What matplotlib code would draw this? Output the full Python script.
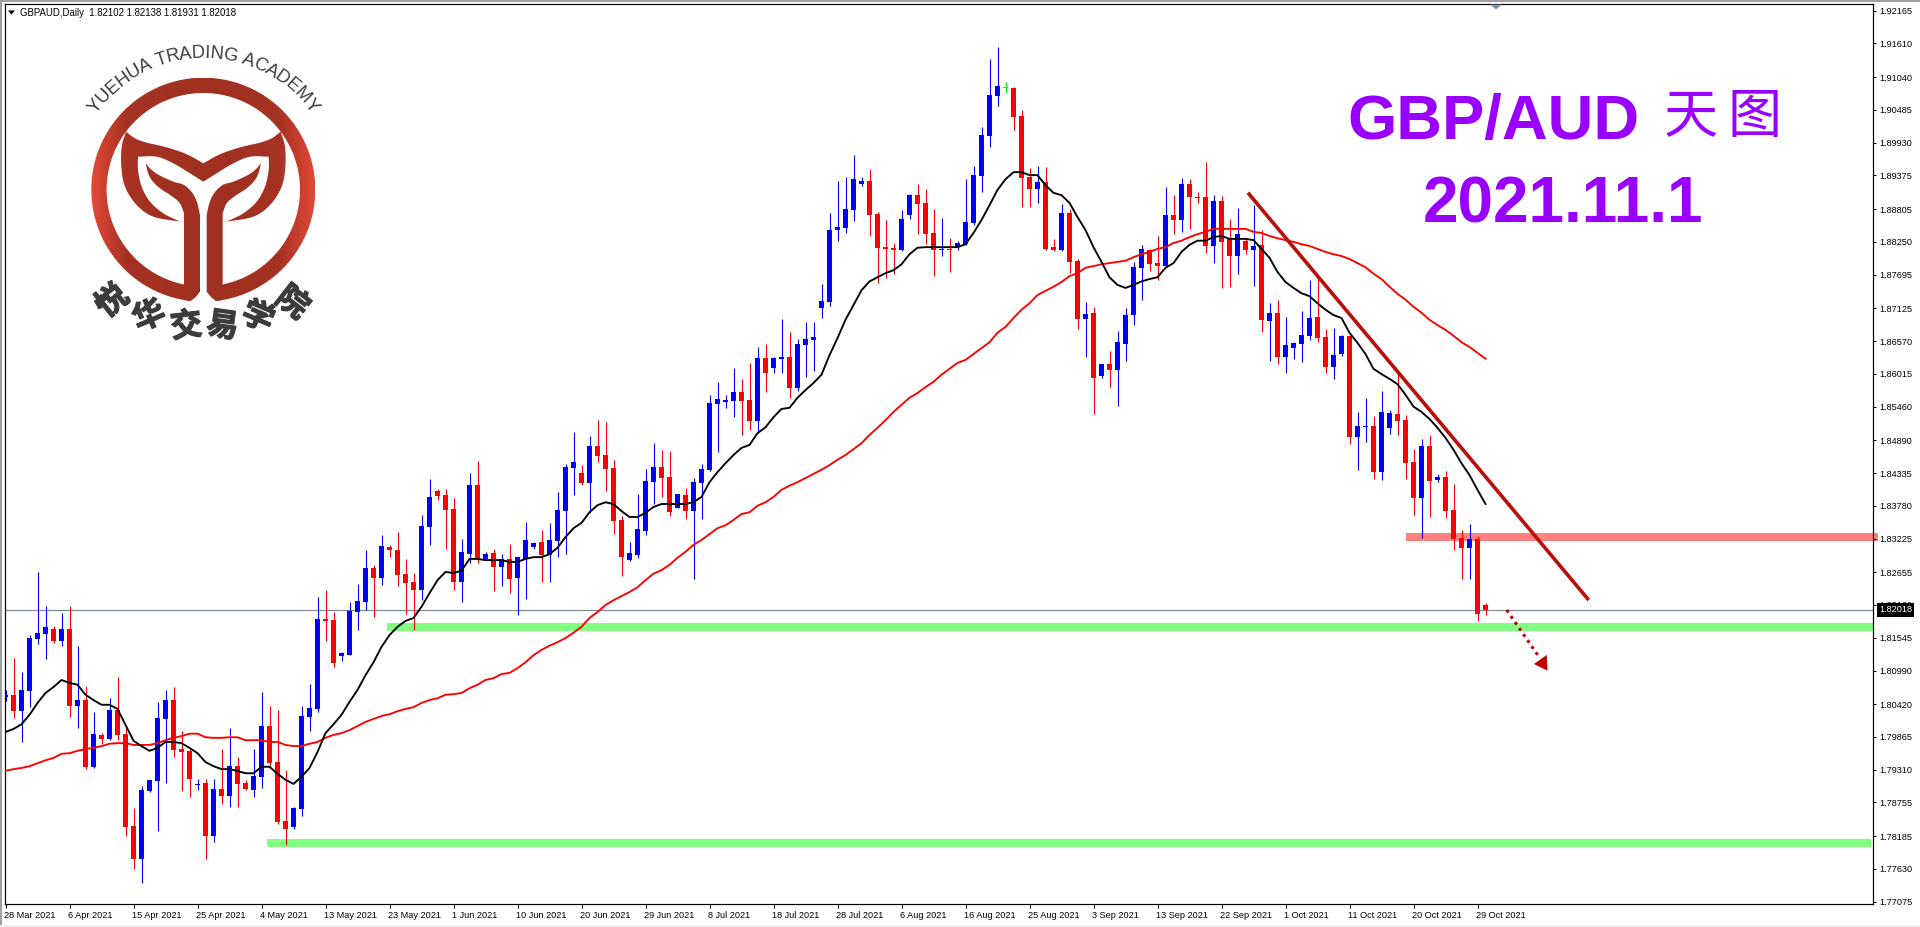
import numpy as np
import matplotlib
matplotlib.use("Agg")
import matplotlib.pyplot as plt
import matplotlib.patheffects as pe
from matplotlib.patches import Rectangle, Polygon
from matplotlib.path import Path
from matplotlib.patches import PathPatch
from matplotlib.transforms import ScaledTranslation

# ---------- data ----------
directions = ("UDUUUUDUDU" "DUDUDDDUUU" "UDDDUDUDUD" "DUUDDDUUUU" "DDUUUUDUDD" "DDUUDDDUUD"
              "UDUDUUUDUU" "UUDUDDDDUU" "UUDDUDUUUU" "UUDDUDUUDU" "UUUUUUUUDD" "DDUUDDDUDU"
              "UUUUUFDDDU" "DDUDDUDUDU" "UUUDDUDUDD" "DUDDUDUDUD" "UUUUDDUUDU" "UDUUDDDUDU" "DDDUDD")
highs = [
    1.8066,1.8120,1.8097,1.8159,1.8266,1.8208,1.8174,1.8196,1.8208,1.8141,
    1.8073,1.8029,1.7993,1.8052,1.8088,1.8003,1.7866,1.7903,1.7914,1.8046,
    1.8066,1.8071,1.7997,1.7966,1.7915,1.7915,1.7915,1.7966,1.8002,1.7953,
    1.7914,1.7966,1.8063,1.8039,1.8032,1.7931,1.7868,1.8039,1.8076,1.8224,
    1.8235,1.8198,1.8130,1.8215,1.8245,1.8303,1.8278,1.8328,1.8312,1.8334,
    1.8288,1.8264,1.8362,1.8423,1.8406,1.8406,1.8391,1.8322,1.8434,1.8454,
    1.8300,1.8305,1.8296,1.8313,1.8291,1.8350,1.8317,1.8337,1.8349,1.8401,
    1.8449,1.8503,1.8447,1.8496,1.8523,1.8520,1.8456,1.8361,1.8317,1.8398,
    1.8440,1.8484,1.8472,1.8471,1.8398,1.8408,1.8425,1.8449,1.8566,1.8588,
    1.8566,1.8611,1.8593,1.8620,1.8647,1.8652,1.8630,1.8694,1.8672,1.8660,
    1.8689,1.8689,1.8754,1.8874,1.8928,1.8935,1.8972,1.8935,1.8948,1.8876,
    1.8862,1.8823,1.8879,1.8906,1.8923,1.8915,1.8881,1.8865,1.8831,1.8827,
    1.8931,1.8954,1.9020,1.9135,1.9155,1.9096,1.9087,1.9048,1.8950,1.8954,
    1.8952,1.8830,1.8889,1.8881,1.8796,1.8723,1.8715,1.8618,1.8640,1.8674,
    1.8713,1.8791,1.8820,1.8811,1.8835,1.8918,1.8904,1.8933,1.8931,1.8909,
    1.8960,1.8904,1.8903,1.8864,1.8882,1.8831,1.8887,1.8845,1.8721,1.8727,
    1.8698,1.8655,1.8708,1.8760,1.8765,1.8677,1.8679,1.8667,1.8666,1.8537,
    1.8561,1.8530,1.8572,1.8540,1.8605,1.8532,1.8474,1.8491,1.8498,1.8432,
    1.8437,1.8415,1.8337,1.8347,1.8327,1.82138]
body_tops = [
    1.8058,1.8058,1.8066,1.8154,1.8163,1.8173,1.8169,1.8169,1.8169,1.8049,
    1.8049,1.7992,1.7990,1.8032,1.8032,1.7992,1.7836,1.7897,1.7914,1.8019,
    1.8049,1.8049,1.7966,1.7963,1.7907,1.7909,1.7898,1.7898,1.7937,1.7937,
    1.7909,1.7920,1.8005,1.8005,1.7944,1.7844,1.7866,1.8022,1.8036,1.8186,
    1.8186,1.8185,1.8129,1.8200,1.8217,1.8273,1.8273,1.8310,1.8308,1.8303,
    1.8263,1.8249,1.8344,1.8393,1.8403,1.8396,1.8373,1.8300,1.8413,1.8413,
    1.8296,1.8298,1.8288,1.8288,1.8291,1.8320,1.8315,1.8317,1.8320,1.8371,
    1.8444,1.8452,1.8434,1.8479,1.8479,1.8464,1.8442,1.8354,1.8298,1.8339,
    1.8420,1.8444,1.8444,1.8427,1.8398,1.8396,1.8418,1.8440,1.8552,1.8559,
    1.8557,1.8571,1.8571,1.8557,1.8628,1.8628,1.8628,1.8630,1.8630,1.8652,
    1.8660,1.8664,1.8725,1.8845,1.8850,1.8881,1.8931,1.8928,1.8928,1.8872,
    1.8816,1.8815,1.8864,1.8904,1.8904,1.8891,1.8840,1.8813,1.8813,1.8823,
    1.8859,1.8938,1.9006,1.9074,1.9089,1.9086,1.9086,1.9038,1.8935,1.8926,
    1.8926,1.8816,1.8874,1.8874,1.8793,1.8703,1.8705,1.8618,1.8618,1.8655,
    1.8701,1.8782,1.8813,1.8811,1.8789,1.8870,1.8870,1.8923,1.8923,1.8901,
    1.8901,1.8894,1.8894,1.8830,1.8838,1.8827,1.8818,1.8820,1.8705,1.8705,
    1.8650,1.8654,1.8667,1.8696,1.8698,1.8664,1.8633,1.8666,1.8666,1.8513,
    1.8513,1.8513,1.8537,1.8535,1.8533,1.8523,1.8452,1.8479,1.8479,1.8427,
    1.8427,1.8371,1.8323,1.8322,1.8322,1.82102]
body_bottoms = [
    1.8054,1.8030,1.8030,1.8064,1.8152,1.8161,1.8149,1.8149,1.8039,1.8039,
    1.7936,1.7936,1.7983,1.7983,1.7990,1.7834,1.7780,1.7780,1.7895,1.7912,
    1.8017,1.7964,1.7961,1.7915,1.7905,1.7819,1.7819,1.7886,1.7886,1.7907,
    1.7898,1.7897,1.7919,1.7942,1.7842,1.7830,1.7834,1.7864,1.8020,1.8034,
    1.8183,1.8112,1.8124,1.8125,1.8198,1.8215,1.8256,1.8256,1.8303,1.8261,
    1.8247,1.8235,1.8235,1.8342,1.8395,1.8371,1.8249,1.8249,1.8296,1.8288,
    1.8288,1.8274,1.8274,1.8254,1.8256,1.8288,1.8308,1.8295,1.8295,1.8318,
    1.8369,1.8442,1.8417,1.8417,1.8462,1.8440,1.8352,1.8291,1.8286,1.8295,
    1.8335,1.8418,1.8425,1.8367,1.8374,1.8369,1.8369,1.8417,1.8439,1.8550,
    1.8553,1.8555,1.8555,1.8522,1.8522,1.8603,1.8611,1.8627,1.8577,1.8577,
    1.8650,1.8659,1.8713,1.8723,1.8845,1.8848,1.8879,1.8923,1.8870,1.8815,
    1.8813,1.8811,1.8811,1.8870,1.8889,1.8838,1.8811,1.8811,1.8811,1.8816,
    1.8821,1.8857,1.8936,1.9004,1.9072,1.9086,1.9036,1.8933,1.8915,1.8915,
    1.8813,1.8811,1.8811,1.8791,1.8694,1.8694,1.8594,1.8598,1.8608,1.8608,
    1.8652,1.8701,1.8781,1.8787,1.8784,1.8784,1.8862,1.8862,1.8901,1.8899,
    1.8818,1.8818,1.8825,1.8801,1.8801,1.8811,1.8811,1.8693,1.8691,1.8630,
    1.8630,1.8645,1.8652,1.8666,1.8662,1.8613,1.8613,1.8635,1.8495,1.8495,
    1.8511,1.8435,1.8435,1.8510,1.8522,1.8450,1.8391,1.8391,1.8420,1.8422,
    1.8369,1.8322,1.8307,1.8307,1.8195,1.82018]
lows = [
    1.8047,1.8019,1.7978,1.8037,1.8144,1.8119,1.8146,1.8141,1.8020,1.8002,
    1.7932,1.7934,1.7975,1.7981,1.7981,1.7819,1.7763,1.7739,1.7893,1.7827,
    1.7909,1.7953,1.7895,1.7885,1.7897,1.7780,1.7809,1.7873,1.7868,1.7868,
    1.7897,1.7885,1.7900,1.7937,1.7839,1.7804,1.7830,1.7853,1.7997,1.8029,
    1.8149,1.8105,1.8115,1.8125,1.8167,1.8201,1.8190,1.8244,1.8291,1.8242,
    1.8195,1.8167,1.8218,1.8312,1.8388,1.8305,1.8235,1.8215,1.8281,1.8281,
    1.8286,1.8234,1.8242,1.8230,1.8193,1.8220,1.8305,1.8249,1.8249,1.8291,
    1.8296,1.8396,1.8413,1.8366,1.8452,1.8403,1.8330,1.8259,1.8284,1.8290,
    1.8328,1.8381,1.8393,1.8361,1.8374,1.8356,1.8254,1.8356,1.8437,1.8469,
    1.8544,1.8528,1.8498,1.8506,1.8501,1.8571,1.8603,1.8603,1.8561,1.8572,
    1.8596,1.8606,1.8696,1.8716,1.8827,1.8840,1.8860,1.8920,1.8835,1.8755,
    1.8764,1.8771,1.8810,1.8864,1.8838,1.8821,1.8767,1.8801,1.8774,1.8811,
    1.8820,1.8854,1.8909,1.8986,1.9055,1.9077,1.9014,1.8884,1.8884,1.8891,
    1.8811,1.8810,1.8810,1.8772,1.8677,1.8630,1.8533,1.8594,1.8579,1.8547,
    1.8623,1.8684,1.8727,1.8776,1.8760,1.8784,1.8838,1.8842,1.8847,1.8891,
    1.8806,1.8789,1.8747,1.8749,1.8771,1.8804,1.8750,1.8672,1.8623,1.8618,
    1.8603,1.8627,1.8621,1.8659,1.8655,1.8603,1.8593,1.8632,1.8483,1.8439,
    1.8486,1.8423,1.8422,1.8500,1.8498,1.8423,1.8362,1.8323,1.8359,1.8418,
    1.8357,1.8303,1.8254,1.8254,1.8183,1.81931]
ma_fast = [
    1.7995,1.8000,1.8008,1.8024,1.8044,1.8061,1.8071,1.8083,1.8078,1.8075,
    1.8058,1.8049,1.8041,1.8041,1.8034,1.8007,1.7980,1.7971,1.7963,1.7968,
    1.7978,1.7978,1.7976,1.7968,1.7959,1.7944,1.7937,1.7932,1.7932,1.7929,
    1.7925,1.7925,1.7936,1.7936,1.7924,1.7914,1.7907,1.7919,1.7934,1.7961,
    1.7993,1.8008,1.8024,1.8046,1.8066,1.8091,1.8113,1.8139,1.8159,1.8173,
    1.8183,1.8188,1.8207,1.8230,1.8252,1.8266,1.8264,1.8268,1.8288,1.8288,
    1.8286,1.8286,1.8286,1.8283,1.8283,1.8288,1.8291,1.8291,1.8296,1.8307,
    1.8325,1.8340,1.8349,1.8367,1.8379,1.8384,1.8381,1.8369,1.8359,1.8359,
    1.8366,1.8376,1.8381,1.8381,1.8381,1.8381,1.8384,1.8393,1.8418,1.8435,
    1.8450,1.8464,1.8476,1.8481,1.8501,1.8511,1.8528,1.8542,1.8544,1.8561,
    1.8574,1.8586,1.8600,1.8633,1.8662,1.8693,1.8718,1.8743,1.8758,1.8765,
    1.8772,1.8777,1.8787,1.8804,1.8815,1.8816,1.8816,1.8816,1.8816,1.8816,
    1.8821,1.8840,1.8862,1.8887,1.8913,1.8931,1.8943,1.8943,1.8938,1.8938,
    1.8921,1.8908,1.8904,1.8891,1.8867,1.8845,1.8816,1.8791,1.8765,1.8752,
    1.8747,1.8752,1.8758,1.8762,1.8765,1.8781,1.8789,1.8808,1.8820,1.8827,
    1.8827,1.8833,1.8835,1.8830,1.8830,1.8830,1.8828,1.8813,1.8798,1.8774,
    1.8757,1.8747,1.8738,1.8733,1.8721,1.8710,1.8701,1.8696,1.8671,1.8654,
    1.8635,1.8610,1.8601,1.8593,1.8584,1.8566,1.8546,1.8537,1.8525,1.8510,
    1.8493,1.8473,1.8450,1.8430,1.8405,1.8381]
ma_slow = [
    1.7929,1.7932,1.7934,1.7937,1.7942,1.7947,1.7951,1.7958,1.7959,1.7963,
    1.7966,1.7968,1.7971,1.7975,1.7976,1.7976,1.7973,1.7973,1.7973,1.7976,
    1.7981,1.7985,1.7988,1.7992,1.7992,1.7986,1.7985,1.7985,1.7986,1.7986,
    1.7981,1.7981,1.7981,1.7978,1.7978,1.7973,1.7971,1.7971,1.7975,1.7978,
    1.7985,1.7990,1.7993,1.7998,1.8005,1.8012,1.8017,1.8022,1.8025,1.8030,
    1.8034,1.8037,1.8044,1.8049,1.8052,1.8058,1.8059,1.8061,1.8069,1.8075,
    1.8083,1.8086,1.8093,1.8095,1.8103,1.8113,1.8125,1.8134,1.8141,1.8147,
    1.8154,1.8163,1.8173,1.8188,1.8198,1.8210,1.8218,1.8225,1.8232,1.8240,
    1.8252,1.8263,1.8269,1.8278,1.8290,1.8300,1.8312,1.8320,1.8330,1.8340,
    1.8345,1.8354,1.8364,1.8367,1.8378,1.8384,1.8393,1.8405,1.8412,1.8418,
    1.8425,1.8432,1.8439,1.8447,1.8456,1.8464,1.8474,1.8484,1.8498,1.8510,
    1.8523,1.8537,1.8549,1.8561,1.8569,1.8579,1.8588,1.8600,1.8610,1.8620,
    1.8625,1.8635,1.8645,1.8655,1.8671,1.8681,1.8696,1.8710,1.8721,1.8735,
    1.8742,1.8749,1.8757,1.8767,1.8772,1.8781,1.8784,1.8787,1.8789,1.8791,
    1.8793,1.8799,1.8804,1.8808,1.8813,1.8816,1.8823,1.8827,1.8833,1.8838,
    1.8842,1.8847,1.8847,1.8847,1.8847,1.8847,1.8842,1.8840,1.8835,1.8831,
    1.8828,1.8825,1.8821,1.8818,1.8813,1.8808,1.8804,1.8801,1.8796,1.8789,
    1.8782,1.8771,1.8762,1.8749,1.8737,1.8727,1.8715,1.8705,1.8693,1.8684,
    1.8676,1.8666,1.8655,1.8647,1.8637,1.8627]
date_labels = ["28 Mar 2021","6 Apr 2021","15 Apr 2021","25 Apr 2021","4 May 2021","13 May 2021",
               "23 May 2021","1 Jun 2021","10 Jun 2021","20 Jun 2021","29 Jun 2021","8 Jul 2021",
               "18 Jul 2021","28 Jul 2021","6 Aug 2021","16 Aug 2021","25 Aug 2021","3 Sep 2021",
               "13 Sep 2021","22 Sep 2021","1 Oct 2021","11 Oct 2021","20 Oct 2021","29 Oct 2021"]
price_ticks = [1.92165,1.91610,1.91040,1.90485,1.89930,1.89375,1.88805,1.88250,1.87695,1.87125,
               1.86570,1.86015,1.85460,1.84890,1.84335,1.83780,1.83225,1.82655,1.82100,1.81545,
               1.80990,1.80420,1.79865,1.79310,1.78755,1.78185,1.77630,1.77075]
last_price = 1.82018
# horizontal zones: (start bar, end bar, upper price, lower price)
green_zones = [(47.7, 233.4, 1.81795, 1.81659), (32.7, 233.2, 1.78137, 1.78001)]
red_zone = (175.06, 234.1, 1.83319, 1.83184)
trend_x, trend_y = [155.3, 197.9], [1.89082, 1.82184]
arrow_x, arrow_y = [187.65, 191.7], [1.82015, 1.81219]
arrow_head_x, arrow_head_y = [192.66, 191.05, 192.75], [1.81253, 1.81100, 1.80987]

# ---------- figure ----------
W, H = 1920, 927
fig = plt.figure(figsize=(W/100, H/100), dpi=100, facecolor="white")
L, R, T, B = 4.5, 1872.5, 4.3, 904.0
ax = fig.add_axes([L/W, (H-B)/H, (R-L)/W, (B-T)/H], zorder=1)
ax.set_xlim((L-5.5)/8, (R-5.5)/8)
ax.set_ylim(1.77036, 1.92273)
FONT = "Liberation Sans"
PX = 0.72

for s in ax.spines.values():
    s.set_linewidth(PX*1.2); s.set_color("black")

x = np.arange(len(highs))
colors = {"U": "#0000ff", "D": "#ff0000", "F": "#00ff00"}
cols = [colors[d] for d in directions]

for x0, x1, hi, lo in green_zones:
    ax.add_patch(Rectangle((x0, lo), x1-x0, hi-lo, fc="#80ff80", ec="none", zorder=1))
ax.add_patch(Rectangle((red_zone[0], red_zone[3]), red_zone[1]-red_zone[0], red_zone[2]-red_zone[3],
                       fc="#ff8080", ec="none", zorder=1, clip_on=False))
ax.axhline(last_price, color="#808898", lw=PX*1.2, zorder=1.5)
ax.vlines(x, lows, highs, colors=cols, lw=PX*1.1, zorder=2)
tops = np.array(body_tops); bots = np.array(body_bottoms)
hts = np.maximum(tops-bots, 0.00017)
ax.bar(x, hts, bottom=bots, width=5/8, color=cols, linewidth=0, zorder=2.1, antialiased=False)
ax.plot(x, ma_slow, color="#ff0000", lw=1.35, zorder=3, solid_joinstyle="round")
ax.plot(x, ma_fast, color="#000000", lw=1.35, zorder=3.1, solid_joinstyle="round")
ax.plot(trend_x, trend_y, color="#b80f0a", lw=2.6, zorder=4, solid_capstyle="butt", clip_on=False)
ax.plot(arrow_x, arrow_y, color="#c00000", lw=2.2, ls=(0, (1, 1.4)), zorder=4)
ax.add_patch(Polygon(np.column_stack([arrow_head_x, arrow_head_y]), fc="#c00000", ec="none", zorder=4))

ax.yaxis.tick_right()
ax.set_yticks(price_ticks)
ax.set_yticklabels([f"{p:.5f}" for p in price_ticks], fontname=FONT, fontsize=6.6, color="black")
ax.tick_params(axis="y", length=2.4, width=PX, pad=2.2, direction="out")
xt = np.arange(len(date_labels))*8
ax.set_xticks(xt)
ax.set_xticklabels(date_labels, fontname=FONT, fontsize=6.6, ha="left", color="black")
ax.tick_params(axis="x", length=2.6, width=PX, pad=2.6, direction="out")
shift = ScaledTranslation(-1.2/100, 0, fig.dpi_scale_trans)
for lab in ax.get_xticklabels():
    lab.set_transform(lab.get_transform()+shift)

ax.annotate(f"{last_price:.5f}", xy=(1.0, last_price), xycoords=("axes fraction", "data"),
            xytext=(4.7, 0), textcoords="offset points", va="center", ha="left", color="white",
            fontname=FONT, fontsize=6.6, annotation_clip=False, zorder=10,
            bbox=dict(boxstyle="square,pad=0.25", fc="black", ec="black", lw=0))

# ---------- overlay in pixel coordinates: frame, header, logo, title ----------
ov = fig.add_axes([0, 0, 1, 1], zorder=2)
ov.patch.set_alpha(0)
ov.axis("off")

ov.add_patch(Rectangle((0, 0), W, 1.6, fc="#a0a0a0", ec="none"))
ov.add_patch(Rectangle((0, 0), 2, H, fc="#a0a0a0", ec="none"))
ov.add_patch(Rectangle((0, H-2), W, 2, fc="#f0f0f0", ec="none"))
ov.add_patch(Polygon([(1490.5, 4.5), (1501.5, 4.5), (1496, 9.5)], fc="#8090a8", ec="none"))
ov.add_patch(Polygon([(8, 10.5), (15, 10.5), (11.5, 14.5)], fc="black", ec="none"))
ov.text(20, 12.7, "GBPAUD,Daily  1.82102 1.82138 1.81931 1.82018", fontname=FONT, fontsize=6.9,
        va="center", ha="left", color="black")

PURPLE = "#9900ff"
ov.text(1347, 139, "GBP/AUD", fontname=FONT, fontweight="bold", fontsize=45.6, color=PURPLE,
        va="baseline", ha="left")
ov.text(1691, 117, "天", fontname="Noto Sans CJK SC", fontsize=39, color=PURPLE, va="center", ha="center")
ov.text(1755, 117, "图", fontname="Noto Sans CJK SC", fontsize=39, color=PURPLE, va="center", ha="center")
ov.text(1563, 222, "2021.11.1", fontname=FONT, fontweight="bold", fontsize=46, color=PURPLE,
        va="baseline", ha="center")

# logo
cx, cy, RO, RI = 203.3, 189.7, 112.0, 96.7
grad_x = np.linspace(cx-RO, cx+RO, 225)
d = np.abs(grad_x-cx)/RO
grad = np.stack([np.interp(d, [0, .68, 1], [160, 165, 226]),
                 np.interp(d, [0, .68, 1], [48, 50, 72]),
                 np.interp(d, [0, .68, 1], [32, 35, 55])], axis=-1)[None, :, :]/255.0

def grad_fill(pts):
    pts = np.asarray(pts, float)
    path = Path(np.vstack([pts, pts[0]]), closed=True)
    patch = PathPatch(path, fc="none", ec="none", transform=ov.transData)
    ov.add_patch(patch)
    im = ov.imshow(grad, extent=(cx-RO, cx+RO, cy+RO, cy-RO), aspect="auto", interpolation="bilinear")
    im.set_clip_path(patch)

def pol(phi, r):
    a = np.radians(phi)
    return np.column_stack([cx+r*np.sin(a), cy+r*np.cos(a)])

def curve(seq, n=8):
    """Catmull-Rom curve through the outline points of one logo edge (zoomed units -> pixels)."""
    p = np.asarray(seq, float)/3.0
    if len(p) < 3:
        return p
    q = np.vstack([2*p[0]-p[1], p, 2*p[-1]-p[-2]])
    out = []
    for i in range(1, len(q)-2):
        for t in np.linspace(0, 1, n, endpoint=False):
            out.append(0.5*((2*q[i]) + (q[i+1]-q[i-1])*t + (2*q[i-1]-5*q[i]+4*q[i+1]-q[i+2])*t*t
                            + (3*q[i]-q[i-1]-3*q[i+1]+q[i+2])*t*t*t))
    out.append(p[-1])
    return np.array(out)

def shape(*edges):
    return np.vstack([curve(e) for e in edges])

def mirror(edges):
    return [[(1220-a, b) for a, b in e] for e in edges]

ring = np.vstack([pol(np.linspace(6, 354, 240), RO), pol(np.linspace(348.5, 11.5, 240), RI)])
grad_fill(ring)

stem_edges = [
    [(437,490),(455,510),(480,527),(520,545),(552,555),(578,580),(592,610),(600,645)],
    [(600,645),(600,875)],
    [(600,875),(585,893),(570,903)],
    [(570,903),(552,895),(552,853)],
    [(552,853),(552,640)],
    [(552,640),(540,610),(515,588),(480,565),(455,540),(443,515),(437,490)],
]
grad_fill(shape(*stem_edges))
grad_fill(shape(*mirror(stem_edges)))
tail_edges = [
    [(378,395),(405,415),(440,428),(480,437),(520,448),(565,465),(610,490)],
    [(610,490),(655,465),(700,448),(740,437),(780,428),(815,415),(842,395)],
    [(842,395),(855,440),(856,500),(845,560),(810,615),(760,650),(680,665)],
    [(680,665),(730,640),(770,605),(795,560),(806,510),(806,470)],
    [(806,470),(750,470),(700,490),(650,520),(610,545)],
    [(610,545),(570,520),(520,490),(470,470),(414,470)],
    [(414,470),(414,510),(425,560),(450,605),(490,640),(540,665)],
    [(540,665),(460,650),(410,615),(375,560),(364,500),(365,440),(378,395)],
]
grad_fill(shape(*tail_edges))

LOGO_GREY = "#3c3c3c"
arc_text = "YUEHUA TRADING ACADEMY"
adv = [.667,.722,.667,.722,.722,.667,.278,.611,.722,.667,.722,.278,.722,.778,.278,.667,.722,.667,.722,.667,.833,.667]
EM = 18.4
pos = np.cumsum([0]+adv[:-1])+np.array(adv)/2
pos = pos-(pos[0]+pos[-1])/2
RT = 136.5
for ch, p in zip(arc_text, pos):
    ang = p*EM/RT
    ov.text(cx+RT*np.sin(ang), cy-RT*np.cos(ang), ch, fontname=FONT, fontsize=EM*.72, color=LOGO_GREY,
            rotation=-np.degrees(ang), rotation_mode="anchor", ha="center", va="center")
cn_chars = "悦华交易学院"
cn_ang = [-39, -23, -7, 8, 23, 38]
cn_rad = [144, 138, 138, 138, 139, 144]
for ch, a, r in zip(cn_chars, cn_ang, cn_rad):
    t = np.radians(a)
    ov.text(cx+r*np.sin(t), cy+r*np.cos(t), ch, fontname="Noto Sans CJK SC", fontweight="bold", fontsize=23,
            color=LOGO_GREY, rotation=-a, rotation_mode="anchor", ha="center", va="center",
            path_effects=[pe.withStroke(linewidth=0.9, foreground=LOGO_GREY)])

ov.set_xlim(0, W)
ov.set_ylim(H, 0)
fig.savefig("out.png", dpi=100, facecolor="white")
